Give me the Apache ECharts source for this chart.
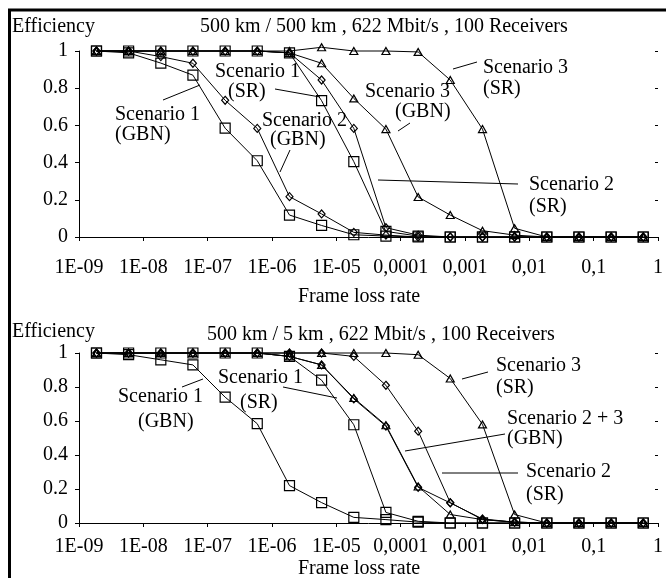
<!DOCTYPE html>
<html><head><meta charset="utf-8">
<script src="https://cdn.jsdelivr.net/npm/echarts/dist/echarts.min.js"></script>
<style>html,body{margin:0;padding:0;background:#fff}#c{width:666px;height:578px}</style>
</head><body><div id="c"></div>
<script>
// Frame loss rate sample points (x)
const frameLossRate = [1.87e-9, 5.9e-9, 1.87e-8, 5.9e-8, 1.87e-7, 5.9e-7, 1.87e-6, 5.9e-6, 1.87e-5, 5.9e-5, 1.87e-4, 5.9e-4, 1.87e-3, 5.9e-3, 1.87e-2, 5.9e-2, 0.187, 0.59];
const xTickLabels = ['1E-09','1E-08','1E-07','1E-06','1E-05','0,0001','0,001','0,01','0,1','1'];

// Top panel: 500 km / 500 km
const top_sc1_gbn = [1, 0.99, 0.935, 0.87, 0.585, 0.41, 0.118, 0.062, 0.012, 0.005, 0, 0, 0, 0, 0, 0, 0, 0];
const top_sc1_sr  = [1, 1, 1, 1, 1, 1, 0.99, 0.733, 0.405, 0.03, 0.005, 0, 0, 0, 0, 0, 0, 0];
const top_sc2_gbn = [1, 1, 0.97, 0.934, 0.735, 0.584, 0.217, 0.124, 0.025, 0.01, 0, 0, 0, 0, 0, 0, 0, 0];
const top_sc2_sr  = [1, 1, 1, 1, 1, 1, 0.99, 0.844, 0.584, 0.05, 0.01, 0, 0, 0, 0, 0, 0, 0];
const top_sc3_gbn = [1, 1, 1, 1, 1, 1, 0.99, 0.934, 0.745, 0.58, 0.215, 0.118, 0.034, 0.01, 0, 0, 0, 0];
const top_sc3_sr  = [1, 1, 1, 1, 1, 1, 1, 1.02, 1, 1, 0.995, 0.844, 0.58, 0.047, 0, 0, 0, 0];

// Bottom panel: 500 km / 5 km
const bot_sc1_gbn = [1, 0.99, 0.96, 0.93, 0.74, 0.584, 0.22, 0.12, 0.033, 0.02, 0.005, 0, 0, 0, 0, 0, 0, 0];
const bot_sc1_sr  = [1, 1, 1, 1, 1, 1, 0.98, 0.84, 0.578, 0.062, 0.01, 0, 0, 0, 0, 0, 0, 0];
const bot_sc2_gbn = [1, 1, 1, 1, 1, 1, 0.98, 0.93, 0.73, 0.57, 0.21, 0.118, 0.024, 0.005, 0, 0, 0, 0];
const bot_sc3_gbn = [1, 1, 1, 1, 1, 1, 0.98, 0.93, 0.735, 0.575, 0.215, 0.05, 0.02, 0.005, 0, 0, 0, 0];
const bot_sc2_sr  = [1, 1, 1, 1, 1, 1, 1, 1, 0.98, 0.81, 0.54, 0.12, 0.02, 0.005, 0, 0, 0, 0];
const bot_sc3_sr  = [1, 1, 1, 1, 1, 1, 1, 1, 1, 1, 0.99, 0.85, 0.58, 0.05, 0, 0, 0, 0];

const FONT = "'Liberation Serif','Times New Roman',serif";
const SQ = ['rect', [10, 10]], DI = ['diamond', [7, 8]], TR = ['triangle', [8, 7]];

function mk(ys, sym, gi) {
  return {
    type: 'line', xAxisIndex: gi, yAxisIndex: gi,
    data: frameLossRate.map((x, i) => [x, ys[i]]),
    symbol: sym[0], symbolSize: sym[1], showAllSymbol: true, clip: false,
    lineStyle: {color: '#000', width: 1},
    itemStyle: {color: 'rgba(255,255,255,0)', borderColor: '#000', borderWidth: 1.2},
    emphasis: {disabled: true}, silent: true, animation: false
  };
}

function xAx(gi, margin, inner) {
  return {
    type: 'log', logBase: 10, min: 1e-9, max: 1, gridIndex: gi,
    axisLine: {show: !inner, lineStyle: {color: '#000', width: 1}},
    axisTick: {show: true, inside: !!inner, length: inner ? 3 : 4, lineStyle: {color: '#000'}},
    splitLine: {show: false}, minorTick: {show: false},
    axisLabel: {show: !inner, margin: margin, color: '#000', fontFamily: FONT, fontSize: 20,
      formatter: v => xTickLabels[Math.round(Math.log10(v)) + 9], showMaxLabel: true, showMinLabel: true}
  };
}
function yAx(gi, inner) {
  return {
    type: 'value', min: 0, max: 1, interval: 0.2, gridIndex: gi,
    axisLine: {show: !inner, lineStyle: {color: '#000', width: 1}},
    axisTick: {show: true, inside: !!inner, length: inner ? 3 : 4, lineStyle: {color: '#000'}},
    splitLine: {show: false},
    axisLabel: {show: !inner, margin: 11, color: '#000', fontFamily: FONT, fontSize: 20}
  };
}

function txt(s, x, y, align) {
  return {type: 'text', silent: true, z: 100, style: {text: s, x: x, y: y, fill: '#000',
    font: '20px ' + FONT, textAlign: align || 'left', align: align || 'left',
    textVerticalAlign: 'middle', verticalAlign: 'middle'}};
}
function ln(x1, y1, x2, y2, w) {
  return {type: 'line', silent: true, z: 100, shape: {x1, y1, x2, y2}, style: {stroke: '#000', lineWidth: w || 1}};
}

const chart = echarts.init(document.getElementById('c'), null, {renderer: 'canvas'});
chart.setOption({
  animation: false,
  backgroundColor: '#fff',
  grid: [
    {left: 79, top: 51, width: 585, height: 186},
    {left: 79, top: 353, width: 585, height: 170}
  ],
  xAxis: [xAx(0, 21), xAx(1, 14), xAx(0, 21, true), xAx(1, 14, true)],
  yAxis: [yAx(0), yAx(1), yAx(0, true), yAx(1, true)],
  series: [
    mk(top_sc1_gbn, SQ, 0), mk(top_sc1_sr, SQ, 0), mk(top_sc2_gbn, DI, 0),
    mk(top_sc2_sr, DI, 0), mk(top_sc3_gbn, TR, 0), mk(top_sc3_sr, TR, 0),
    mk(bot_sc1_gbn, SQ, 1), mk(bot_sc1_sr, SQ, 1), mk(bot_sc2_gbn, DI, 1),
    mk(bot_sc3_gbn, TR, 1), mk(bot_sc2_sr, DI, 1), mk(bot_sc3_sr, TR, 1)
  ],
  graphic: [
    ln(8, 10, 666, 10, 3), ln(9.5, 10, 9.5, 578, 3),
    txt('Efficiency', 12, 27), txt('500 km / 500 km , 622 Mbit/s , 100 Receivers', 200, 27),
    txt('Scenario 1', 115, 115), txt('(GBN)', 115, 135), ln(163, 100, 200, 85),
    txt('Scenario 1', 215, 72), txt('(SR)', 228, 92), ln(275, 89, 320, 97),
    txt('Scenario 2', 262, 121), txt('(GBN)', 270, 140), ln(290, 150, 280, 172),
    txt('Scenario 3', 365, 92), txt('(GBN)', 395, 112), ln(398, 131, 410, 123),
    txt('Scenario 3', 483, 68), txt('(SR)', 483, 89), ln(453, 69, 477, 62),
    txt('Scenario 2', 529, 185), txt('(SR)', 529, 207), ln(378, 180, 518, 184),
    txt('Frame loss rate', 359, 297, 'center'),

    txt('Efficiency', 12, 332), txt('500 km / 5 km , 622 Mbit/s , 100 Receivers', 207, 335),
    txt('Scenario 1', 118, 397), txt('(GBN)', 138, 422), ln(182, 387, 203, 379),
    txt('Scenario 1', 218, 378), txt('(SR)', 240, 403), ln(283, 387, 337, 398),
    txt('Scenario 3', 496, 366), txt('(SR)', 496, 388), ln(462, 379, 488, 372),
    txt('Scenario 2 + 3', 507, 419), txt('(GBN)', 507, 439), ln(405, 451, 505, 434),
    txt('Scenario 2', 526, 472), txt('(SR)', 526, 495), ln(442, 473, 518, 473),
    txt('Frame loss rate', 359, 569, 'center')
  ]
});
</script></body></html>
